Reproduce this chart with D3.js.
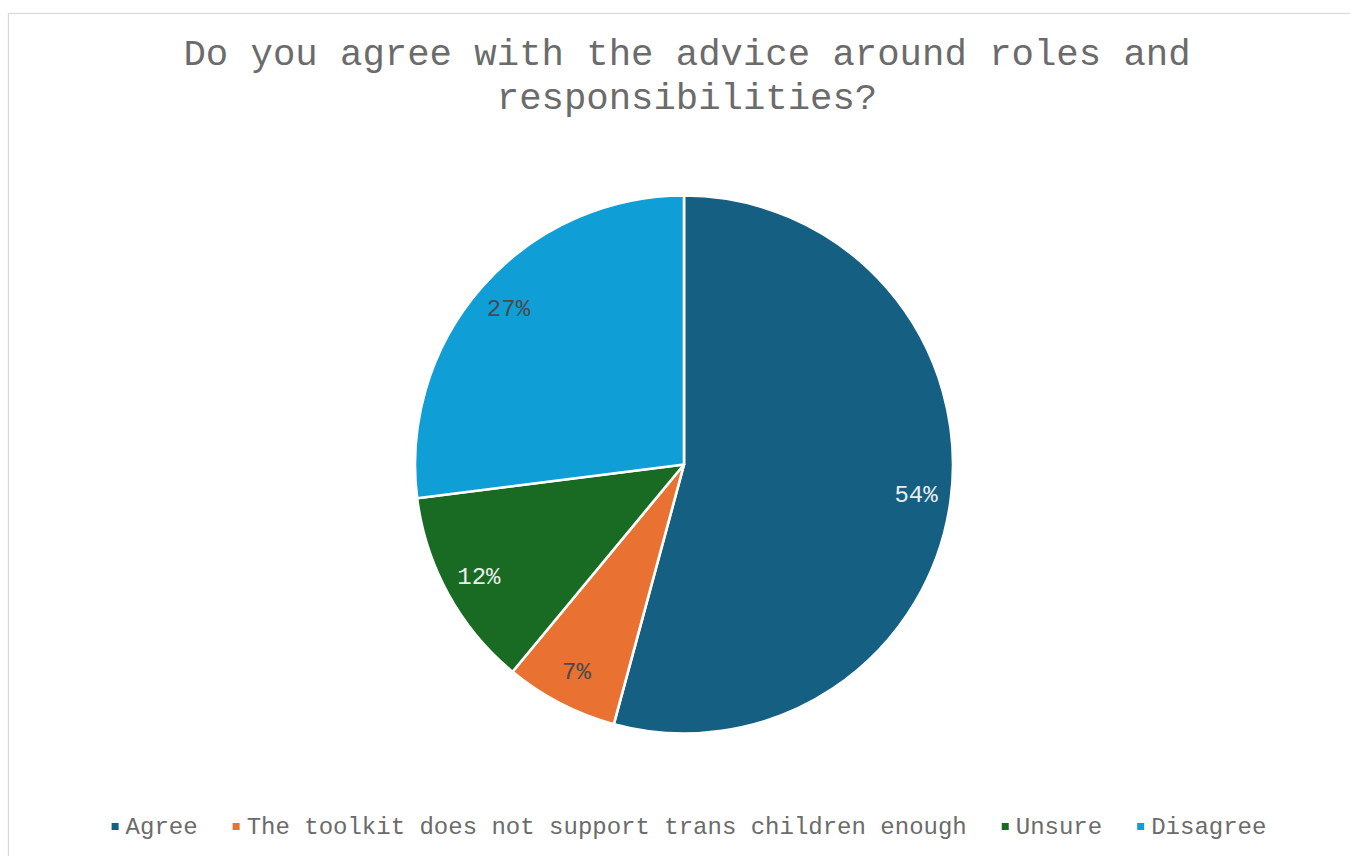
<!DOCTYPE html>
<html>
<head>
<meta charset="utf-8">
<script src="https://cdn.jsdelivr.net/npm/d3@7"></script>
<style>
  html, body { margin: 0; padding: 0; background: #ffffff; }
  svg { display: block; }
  text { font-family: "Liberation Mono", "Courier New", monospace; }
</style>
</head>
<body>
<svg id="chart" width="1350" height="856"></svg>
<script>
const categories = ["Agree", "The toolkit does not support trans children enough", "Unsure", "Disagree"];
const values = [54.2, 6.8, 12.0, 27.0];
const labels = ["54%", "7%", "12%", "27%"];
const colors = ["#156082", "#E97132", "#196B24", "#0F9ED5"];
const labelColors = ["#ececec", "#4a4a4a", "#ececec", "#4a4a4a"];
const titleLines = ["Do you agree with the advice around roles and", "responsibilities?"];

const svg = d3.select("#chart");
const W = 1350, H = 856;

svg.append("rect").attr("x", 0).attr("y", 0).attr("width", W).attr("height", H).attr("fill", "#fff");
svg.append("rect")
  .attr("x", 8.5).attr("y", 13.5).attr("width", W + 10).attr("height", H + 10)
  .attr("fill", "none").attr("stroke", "#d9d9d9").attr("stroke-width", 1.3);

// Title
const title = svg.append("g");
titleLines.forEach((t, i) => {
  title.append("text")
    .attr("x", 687).attr("y", 65 + i * 44)
    .attr("text-anchor", "middle")
    .attr("font-size", 37.3)
    .attr("fill", "#6b6b6b")
    .text(t);
});

// Pie
const cx = 684, cy = 464.5, r = 269;
const data = categories.map((c, i) => ({ cat: c, value: values[i], label: labels[i], color: colors[i], lc: labelColors[i] }));
const pie = d3.pie().value(d => d.value).sort(null);
const arc = d3.arc().innerRadius(0).outerRadius(r);
const labelArc = d3.arc().innerRadius(r * 0.87).outerRadius(r * 0.87);
const arcs = pie(data);

const g = svg.append("g").attr("transform", `translate(${cx},${cy})`);
g.selectAll("path.slice").data(arcs).enter().append("path")
  .attr("class", "slice")
  .attr("d", arc)
  .attr("fill", d => d.data.color)
  .attr("stroke", "#ffffff")
  .attr("stroke-width", 2.6)
  .attr("stroke-linejoin", "round");

g.selectAll("text.lbl").data(arcs).enter().append("text")
  .attr("class", "lbl")
  .attr("transform", d => `translate(${labelArc.centroid(d)})`)
  .attr("text-anchor", "middle")
  .attr("dominant-baseline", "central")
  .attr("font-size", 24)
  .attr("fill", d => d.data.lc)
  .text(d => d.data.label);

// Legend
const legend = svg.append("g");
const marker = 7, mgap = 7, spacing = 35, fs = 24, baseY = 834;
const items = data.map(d => {
  const gi = legend.append("g");
  gi.append("rect").attr("width", marker).attr("height", marker).attr("y", baseY - 11).attr("fill", d.color);
  const t = gi.append("text").attr("x", marker + mgap).attr("y", baseY)
    .attr("font-size", fs).attr("fill", "#6b6b6b").text(d.cat);
  const w = marker + mgap + t.node().getComputedTextLength();
  return { gi, w };
});
const total = d3.sum(items, d => d.w) + spacing * (items.length - 1);
let x = 689 - total / 2;
items.forEach(it => {
  it.gi.attr("transform", `translate(${x},0)`);
  x += it.w + spacing;
});
</script>
</body>
</html>
